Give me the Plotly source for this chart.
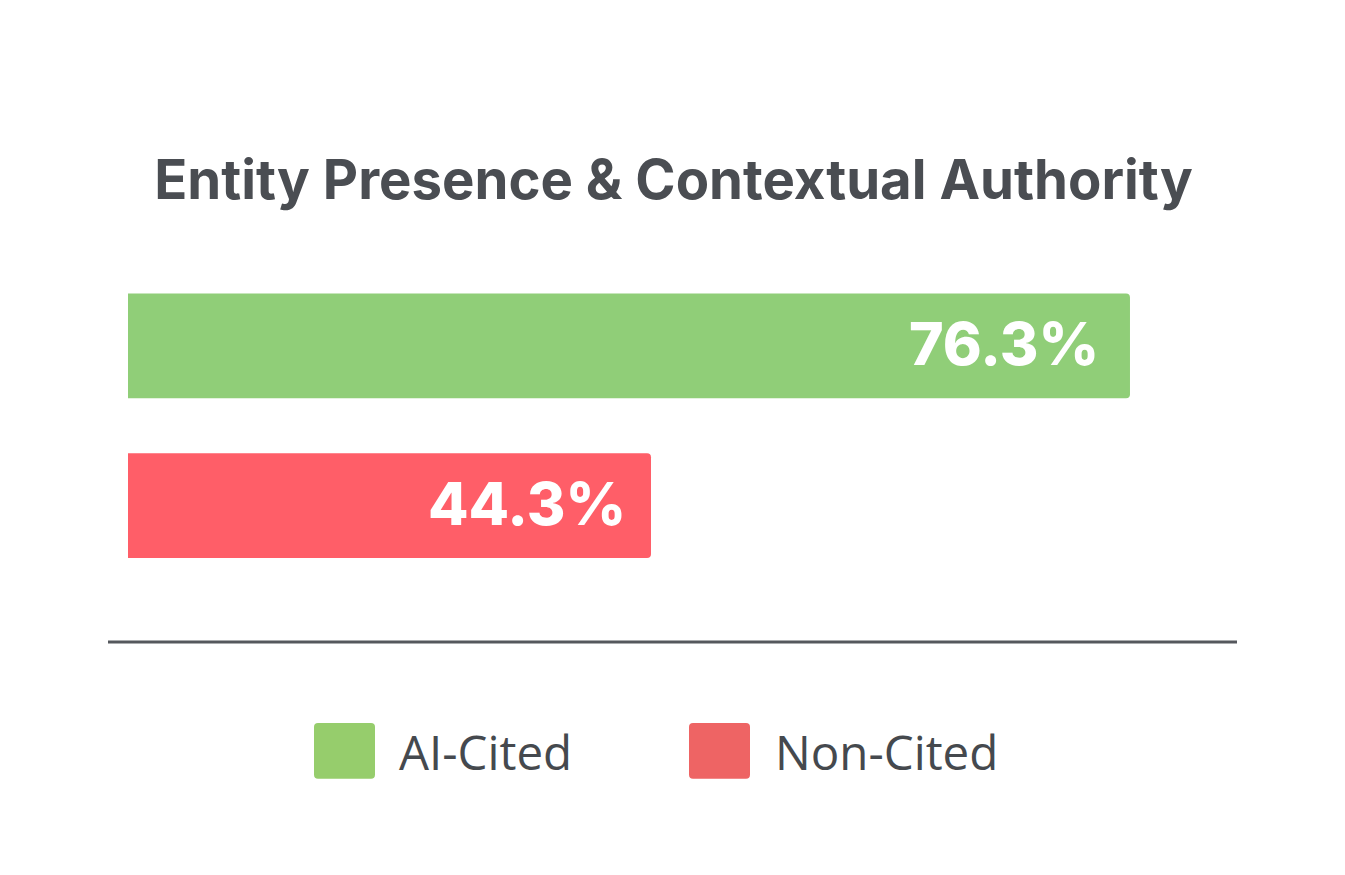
import plotly.graph_objects as go

categories = ["AI-Cited", "Non-Cited"]
values = [76.3, 44.3]
bar_colors = ["#90CE78", "#FF5E68"]
legend_colors = ["#96CD6C", "#EE6464"]
title_text = "Entity Presence & Contextual Authority"

OFF = 8  # page body offset
L, R, T, B = 128 - OFF, 1237 - OFF, 265.5 - OFF, 642 - OFF
PW, PH = R - L, B - T

fig = go.Figure()
fig.add_trace(go.Bar(
    y=categories, x=values, orientation="h",
    marker=dict(color=bar_colors, cornerradius=4, line=dict(width=0)),
    width=0.656, showlegend=False, hoverinfo="skip",
))

label_shifts = [-29, -23]
for c, v, s in zip(categories, values, label_shifts):
    fig.add_annotation(x=v, y=c, xref="x", yref="y", text=f"{v}%",
                       xanchor="right", yanchor="middle", xshift=s, yshift=2,
                       showarrow=False,
                       font=dict(family="Inter", size=59, color="white", weight=800))

# divider line
fig.add_shape(type="line", xref="paper", yref="paper", x0=-20 / PW, x1=1, y0=0, y1=0,
              line=dict(color="#55585D", width=3))


def px(xpix):
    return (xpix - 128) / PW


def py(ypix):
    return -(ypix - 642) / PH


def rounded_rect(x0, y0, x1, y1, r):
    # pixel coords (reference), converted to paper
    pts = (f"M {px(x0 + r)} {py(y0)} L {px(x1 - r)} {py(y0)} "
           f"Q {px(x1)} {py(y0)} {px(x1)} {py(y0 + r)} "
           f"L {px(x1)} {py(y1 - r)} Q {px(x1)} {py(y1)} {px(x1 - r)} {py(y1)} "
           f"L {px(x0 + r)} {py(y1)} Q {px(x0)} {py(y1)} {px(x0)} {py(y1 - r)} "
           f"L {px(x0)} {py(y0 + r)} Q {px(x0)} {py(y0)} {px(x0 + r)} {py(y0)} Z")
    return pts


# custom legend
legend_pos = [(314, 400), (689, 776)]
for (sx, tx), name, col in zip(legend_pos, categories, legend_colors):
    fig.add_shape(type="path", xref="paper", yref="paper",
                  path=rounded_rect(sx, 723, sx + 61, 779, 4),
                  fillcolor=col, line=dict(width=0), layer="above")
    fig.add_annotation(xref="paper", yref="paper", x=px(tx - 3),
                       y=py(752), text=name, xanchor="left",
                       yanchor="middle", showarrow=False,
                       font=dict(family="Open Sans", size=47.5, color="#45494E"))

fig.update_layout(
    width=1345, height=875,
    margin=dict(l=L, r=1345 - R, t=T, b=875 - B, pad=0),
    paper_bgcolor="white", plot_bgcolor="white",
    title=dict(text=title_text, x=(673.5 - OFF) / 1345, xanchor="center", xref="container",
               y=1 - (180 - OFF) / 875, yanchor="middle",
               font=dict(family="Inter", size=54.5, color="#4A4D52", weight=700)),
    xaxis=dict(range=[9.36, 83.45], visible=False, fixedrange=True),
    yaxis=dict(range=[1.853, -0.5], visible=False, fixedrange=True),
    bargap=0.344,
)

fig.write_html("out.html", config={"displayModeBar": False})
